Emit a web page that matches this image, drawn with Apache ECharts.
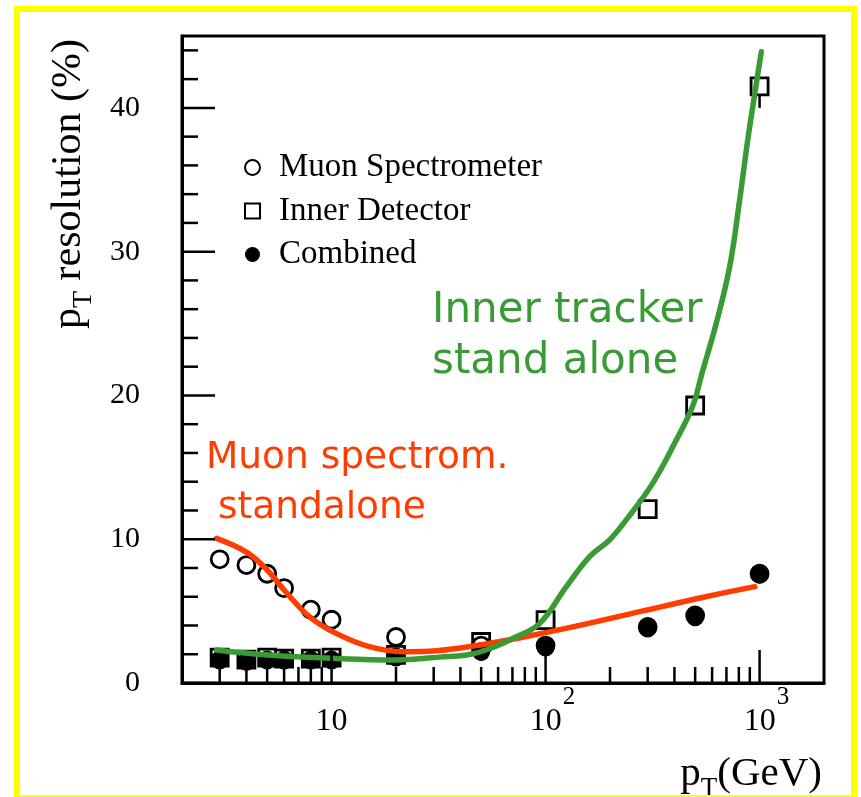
<!DOCTYPE html>
<html><head><meta charset="utf-8">
<script src="https://cdn.jsdelivr.net/npm/echarts@6/dist/echarts.min.js"></script>
<style>html,body{margin:0;padding:0;background:#fff}#c{width:861px;height:797px}</style>
</head><body><div id="c"></div>
<script>
// ---- data ----
const ptMuon  = [3, 4, 5, 6, 8, 10, 20, 50, 100, 300, 500, 1000];
const resMuon = [8.6, 8.2, 7.6, 6.6, 5.1, 4.4, 3.2, 2.6, 2.6, 3.9, 4.7, 7.6];
const ptInner  = [3, 4, 5, 6, 8, 10, 20, 50, 100, 300, 500, 1000];
const resInner = [1.77, 1.63, 1.77, 1.7, 1.7, 1.77, 1.95, 2.85, 4.38, 12.1, 19.3, 41.5];
const ptComb  = [3, 4, 5, 6, 8, 10, 20, 50, 100, 300, 500, 1000];
const resComb = [1.6, 1.5, 1.6, 1.6, 1.6, 1.6, 1.8, 2.18, 2.5, 3.83, 4.6, 7.58];
const innerErrPt  = [1000];
const innerErrLow = [40.0];
const muonCurvePt  = [2.9, 4, 5, 6, 7.9, 10.5, 15, 21.5, 31, 44, 73, 134, 275, 560, 950];
const muonCurveRes = [10.06, 9.1, 7.86, 6.47, 4.6, 3.45, 2.53, 2.18, 2.25, 2.53, 3.1, 3.9, 4.96, 6.0, 6.7];
const innerCurvePt  = [2.9, 5.1, 10, 19.8, 32, 44, 55, 73, 94, 125, 161, 199, 238, 317, 408, 488, 537, 627, 725, 807, 881, 966, 1019];
const innerCurveRes = [2.3, 1.95, 1.72, 1.6, 1.8, 1.98, 2.4, 3.22, 4.15, 6.7, 8.8, 9.95, 11.34, 13.9, 16.9, 19.3, 21.5, 25.0, 28.96, 33.6, 37.8, 41.7, 43.9];
const xMajorTicks = [10, 100, 1000];
const xMinorTicks = [3, 4, 5, 6, 7, 8, 9, 20, 30, 40, 50, 60, 70, 80, 90, 200, 300, 400, 500, 600, 700, 800, 900];
const yMajorTicks = [0, 10, 20, 30, 40];
const yMinorTicks = [2, 4, 6, 8, 12, 14, 16, 18, 22, 24, 26, 28, 32, 34, 36, 38, 42, 44];
const seriesNames = ['Muon Spectrometer', 'Inner Detector', 'Combined'];
const noteInner = ['Inner tracker', 'stand alone'];
const noteMuon = ['Muon spectrom.', ' standalone'];

const GREEN = '#3a9a35', RED = '#ff3d00';
const SERIF = '"Liberation Serif","DejaVu Serif",serif';
const HAND = '"DejaVu Sans",sans-serif';
const zip = (a, b) => a.map((v, i) => [v, b[i]]);

const tickData = [].concat(
  xMajorTicks.map(v => [v, 0, 0]),
  xMinorTicks.map(v => [v, 0, 1]),
  yMajorTicks.map(v => [2, v, 2]),
  yMinorTicks.map(v => [2, v, 3])
);

const chart = echarts.init(document.getElementById('c'));
chart.setOption({
  backgroundColor: '#fff',
  animation: false,
  grid: { left: 182, right: 37, top: 36, bottom: 114, show: true, borderColor: '#000', borderWidth: 3, backgroundColor: 'transparent' },
  xAxis: {
    type: 'log', logBase: 10, min: 2, max: 2000,
    axisLine: { show: true, lineStyle: { color: '#000', width: 3 } },
    axisTick: { show: false }, splitLine: { show: false }, minorTick: { show: false },
    axisLabel: {
      margin: 2, color: '#000', fontFamily: SERIF, fontSize: 32, showMinLabel: true, showMaxLabel: true,
      formatter: v => {
        const l = Math.log10(v), r = Math.round(l);
        if (Math.abs(l - r) > 1e-6) return '';
        if (r === 1) return '{b|10}';
        if (r === 2 || r === 3) return '{p|10}{s|' + r + '}';
        return '';
      },
      rich: {
        b: { fontFamily: SERIF, fontSize: 32, color: '#000', lineHeight: 53, verticalAlign: 'bottom' },
        p: { fontFamily: SERIF, fontSize: 32, color: '#000', lineHeight: 53, verticalAlign: 'bottom', padding: [0, 0, 0, 14] },
        s: { fontFamily: SERIF, fontSize: 25, color: '#000', lineHeight: 53, verticalAlign: 'top', padding: [0, 0, 0, 1] }
      }
    }
  },
  yAxis: {
    type: 'value', min: 0, max: 45, interval: 10,
    axisLine: { show: true, lineStyle: { color: '#000', width: 3 } },
    axisTick: { show: false }, splitLine: { show: false },
    axisLabel: { margin: 42, color: '#000', fontFamily: SERIF, fontSize: 30, formatter: v => (v % 10 === 0 ? String(v) : '') }
  },
  legend: {
    data: seriesNames, orient: 'vertical', left: 239, top: 145,
    itemWidth: 15, itemHeight: 15, itemGap: 8.5,
    textStyle: { fontFamily: SERIF, fontSize: 33, color: '#000', lineHeight: 35, padding: [0, 0, 0, 14] }
  },
  graphic: [
    { type: 'rect', silent: true, z: 100, shape: { x: 17, y: 9, width: 837, height: 789 }, style: { fill: 'none', stroke: '#ffff00', lineWidth: 6 } },
    { type: 'text', silent: true, x: 69, y: 184, rotation: Math.PI / 2,
      style: { text: 'p{s|T} resolution (%)', fill: '#000', font: '42px ' + SERIF, align: 'center', verticalAlign: 'middle',
        rich: { s: { fontFamily: SERIF, fontSize: 28, fill: '#000', lineHeight: 58, verticalAlign: 'bottom' } } } },
    { type: 'text', silent: true, x: 822, y: 774,
      style: { text: 'p{s|T}(GeV)', fill: '#000', font: '41px ' + SERIF, align: 'right', verticalAlign: 'middle',
        rich: { s: { fontFamily: SERIF, fontSize: 27, fill: '#000', lineHeight: 56, verticalAlign: 'bottom' } } } },
    { type: 'text', silent: true, x: 432, y: 311, style: { text: noteInner[0], fill: GREEN, font: '42px ' + HAND, align: 'left', verticalAlign: 'middle' } },
    { type: 'text', silent: true, x: 432, y: 362, style: { text: noteInner[1], fill: GREEN, font: '42px ' + HAND, align: 'left', verticalAlign: 'middle' } },
    { type: 'text', silent: true, x: 206, y: 458, style: { text: noteMuon[0], fill: RED, font: '37.5px ' + HAND, align: 'left', verticalAlign: 'middle' } },
    { type: 'text', silent: true, x: 206, y: 508, style: { text: noteMuon[1], fill: RED, font: '37.5px ' + HAND, align: 'left', verticalAlign: 'middle' } }
  ],
  series: [
    {
      type: 'custom', name: 'ticks', silent: true, clip: false, z: 6, data: tickData,
      renderItem: (params, api) => {
        const p = api.coord([api.value(0), api.value(1)]);
        const k = api.value(2);
        const len = (k === 0 || k === 2) ? 33 : 16;
        const shape = k < 2 ? { x1: p[0], y1: p[1], x2: p[0], y2: p[1] - len } : { x1: p[0], y1: p[1], x2: p[0] + len, y2: p[1] };
        return { type: 'line', shape, style: { stroke: '#000', lineWidth: 2.5 } };
      }
    },
    {
      type: 'custom', name: 'errors', silent: true, z: 3, data: zip(innerErrPt, innerErrLow).map(d => [d[0], resInner[ptInner.indexOf(d[0])], d[1]]),
      renderItem: (params, api) => {
        const a = api.coord([api.value(0), api.value(1)]);
        const b = api.coord([api.value(0), api.value(2)]);
        return { type: 'line', shape: { x1: a[0], y1: a[1] + 8.5, x2: b[0], y2: b[1] }, style: { stroke: '#000', lineWidth: 2.5 } };
      }
    },
    { type: 'scatter', name: seriesNames[0], z: 3, symbol: 'circle', symbolSize: 17, data: zip(ptMuon, resMuon),
      itemStyle: { color: 'rgba(255,255,255,0)', borderColor: '#000', borderWidth: 2.8, opacity: 1 } },
    { type: 'scatter', name: seriesNames[1], z: 3, symbol: 'rect', symbolSize: 17, data: zip(ptInner, resInner),
      itemStyle: { color: 'rgba(255,255,255,0)', borderColor: '#000', borderWidth: 2.8, opacity: 1 } },
    { type: 'scatter', name: seriesNames[2], z: 3, symbol: 'circle', symbolSize: [18, 19], data: zip(ptComb, resComb),
      itemStyle: { color: '#000', opacity: 1 } },
    { type: 'line', name: 'muonCurve', z: 4, smooth: 0.4, showSymbol: false, symbol: 'none', data: zip(muonCurvePt, muonCurveRes),
      lineStyle: { color: RED, width: 5.5, cap: 'round' } },
    { type: 'line', name: 'innerCurve', z: 4, smooth: 0.4, showSymbol: false, symbol: 'none', data: zip(innerCurvePt, innerCurveRes),
      lineStyle: { color: GREEN, width: 5.5, cap: 'round' } }
  ]
});
</script></body></html>
